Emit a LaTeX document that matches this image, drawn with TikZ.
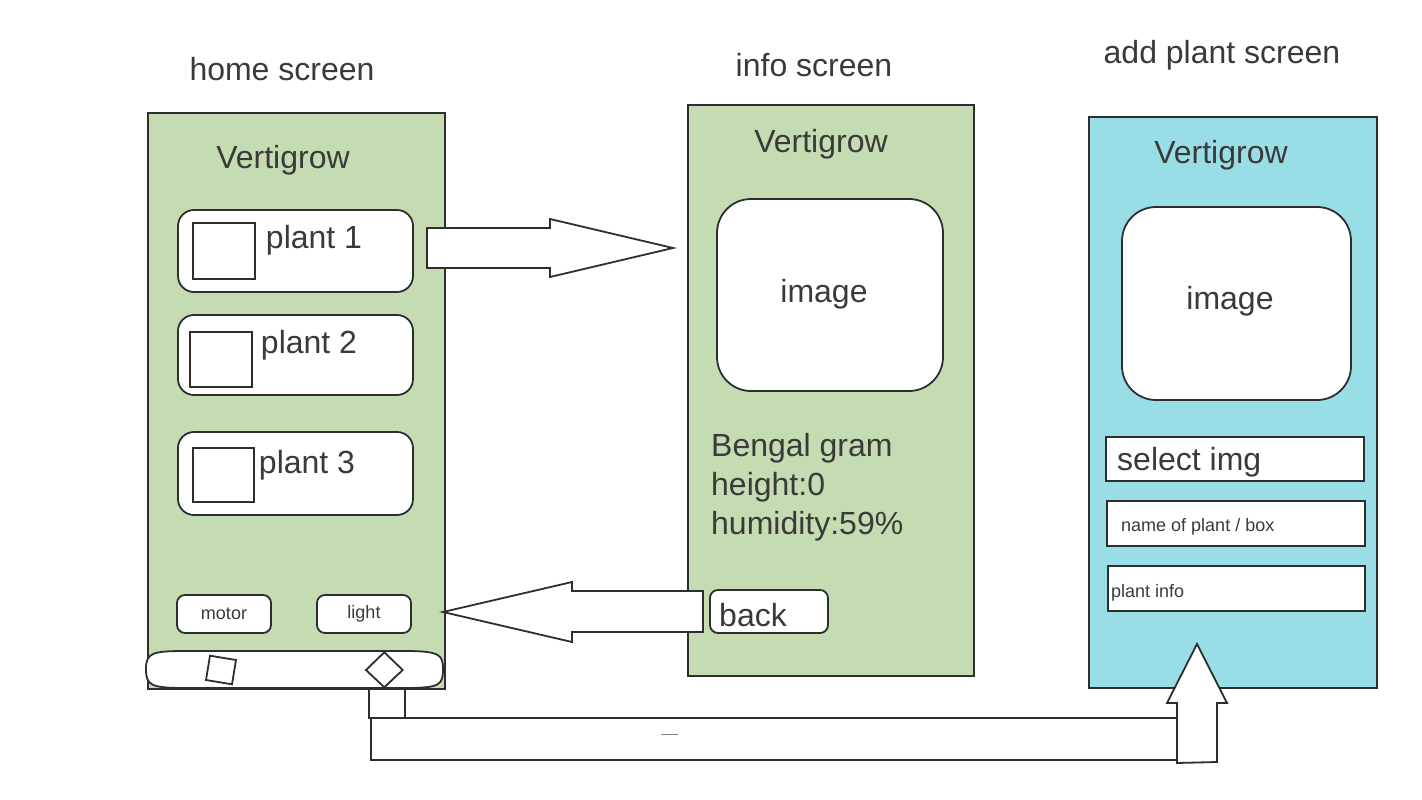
\documentclass[tikz,border=0pt]{standalone}
\usepackage{fontspec}
\setmainfont{Liberation Sans}
\definecolor{txt}{HTML}{3A3A3A}
\definecolor{scrgreen}{HTML}{C5DCB2}
\definecolor{scrcyan}{HTML}{99DEE6}
\definecolor{ln}{HTML}{2E2E2E}
\begin{document}
\begin{tikzpicture}[x=1pt,y=-1pt,
  every node/.style={text=txt, font=\fontsize{32}{39}\selectfont},
  lbl/.style={yshift=-3pt},
  frame/.style={draw=ln, line width=1.8pt, inner sep=0pt},
  screen/.style={frame, fill=#1},
  card/.style={frame, fill=white, rounded corners=16pt},
  btn/.style={frame, fill=white, rounded corners=8pt},
  imgbox/.style={frame, fill=white, rounded corners=34pt},
  field/.style={frame, fill=white},
  sq/.style={frame, fill=white},
  small/.style={font=\fontsize{18}{22}\selectfont},
  blockarrow/.style={draw=ln, line width=1.8pt, fill=white, line join=miter}]
\useasboundingbox (0,0) rectangle (1422,800);

% titles
\node[lbl] (t1) at (282,66) {home screen};
\node[lbl] (t2) at (814,62) {info screen};
\node[lbl] (t3) at (1222,52) {add plant screen};

% screens
\node[screen=scrgreen, minimum width=297pt, minimum height=576pt] (home) at (296.5,401) {};
\node[screen=scrgreen, minimum width=286pt, minimum height=571pt] (info) at (831,390.5) {};
\node[screen=scrcyan, minimum width=288pt, minimum height=571pt] (add) at (1233,402.5) {};

% home screen content
\node[lbl] (v1) at (283,157) {Vertigrow};
\node[card, minimum width=235pt, minimum height=82pt] (p1) at (295.5,251) {};
\node[card, minimum width=235pt, minimum height=80pt] (p2) at (295.5,355) {};
\node[card, minimum width=235pt, minimum height=83pt] (p3) at (295.5,473.5) {};
\node[sq, minimum width=62pt, minimum height=56pt] (s1) at (224,251) {};
\node[sq, minimum width=62pt, minimum height=55pt] (s2) at (221,359.5) {};
\node[sq, minimum width=61pt, minimum height=54pt] (s3) at (223.5,475) {};
\node[lbl] (l1) at (314,237) {plant 1};
\node[lbl] (l2) at (309,342) {plant 2};
\node[lbl] (l3) at (307,462) {plant 3};
\node[btn, small, minimum width=94pt, minimum height=38pt] (motor) at (224,614) {motor};
\node[btn, small, minimum width=94pt, minimum height=38pt] (light) at (364,614) {light};
% bottom bar
\draw[draw=ln, line width=1.8pt, fill=white]
  (146,669) .. controls (146,653) and (152,651) .. (185,651) -- (405,651)
  .. controls (440,651) and (443,655) .. (443,669)
  .. controls (443,685) and (440,688) .. (405,688) -- (185,688)
  .. controls (150,688) and (146,685) .. (146,669) -- cycle;
\draw[draw=ln, line width=1.8pt, fill=white] (210,655.7) -- (236,660) -- (232,684.3) -- (206,680) -- cycle;
\draw[draw=ln, line width=1.8pt, fill=white] (384.3,652.3) -- (402.7,670) -- (384.3,687.3) -- (366,670) -- cycle;

% info screen content
\node[lbl] (v2) at (821,141) {Vertigrow};
\node[imgbox, minimum width=226pt, minimum height=192pt] (img1) at (830,295) {};
\node[lbl] (i1) at (824,291) {image};
\node[lbl, anchor=west, align=left, inner sep=0pt] (desc) at (711,484) {Bengal gram\\height:0\\humidity:59\%};
\node[btn, minimum width=118pt, minimum height=43pt] (back) at (769,611.5) {};
\node[lbl] (backl) at (753,612) {back};

% add plant screen content
\node[lbl] (v3) at (1221,152) {Vertigrow};
\node[imgbox, minimum width=229pt, minimum height=193pt] (img2) at (1236.5,303.5) {};
\node[lbl] (i2) at (1230,298) {image};
\node[field, minimum width=258pt, minimum height=44pt] (sel) at (1235,459) {};
\node[lbl, anchor=west, inner sep=0pt] (sell) at (1117,459) {select img};
\node[field, minimum width=258pt, minimum height=45pt] (name) at (1236,523.5) {};
\node[lbl, anchor=west, inner sep=0pt, small] (namel) at (1121,524) {name of plant / box};
\node[field, minimum width=257pt, minimum height=45pt] (pinfo) at (1236.5,588.5) {};
\node[lbl, anchor=west, inner sep=0pt, small] (pinfol) at (1111,590) {plant info};

% block arrows
\draw[blockarrow] (427,228) -- (550,228) -- (550,219) -- (673,248) -- (550,277) -- (550,268) -- (427,268) -- cycle;
\draw[blockarrow] (703,591) -- (572,591) -- (572,582) -- (443,612) -- (572,642) -- (572,632) -- (703,632) -- cycle;
\draw[blockarrow] (369,689) rectangle (405,718);
\draw[blockarrow] (371,718) rectangle (1177,760);
\draw[blockarrow] (1177,763) -- (1177,703) -- (1167,703) -- (1197,644) -- (1227,703) -- (1217,703) -- (1217,762) -- cycle;
\draw[gray, line width=1pt] (661,734) -- (678,734);
\end{tikzpicture}
\end{document}
